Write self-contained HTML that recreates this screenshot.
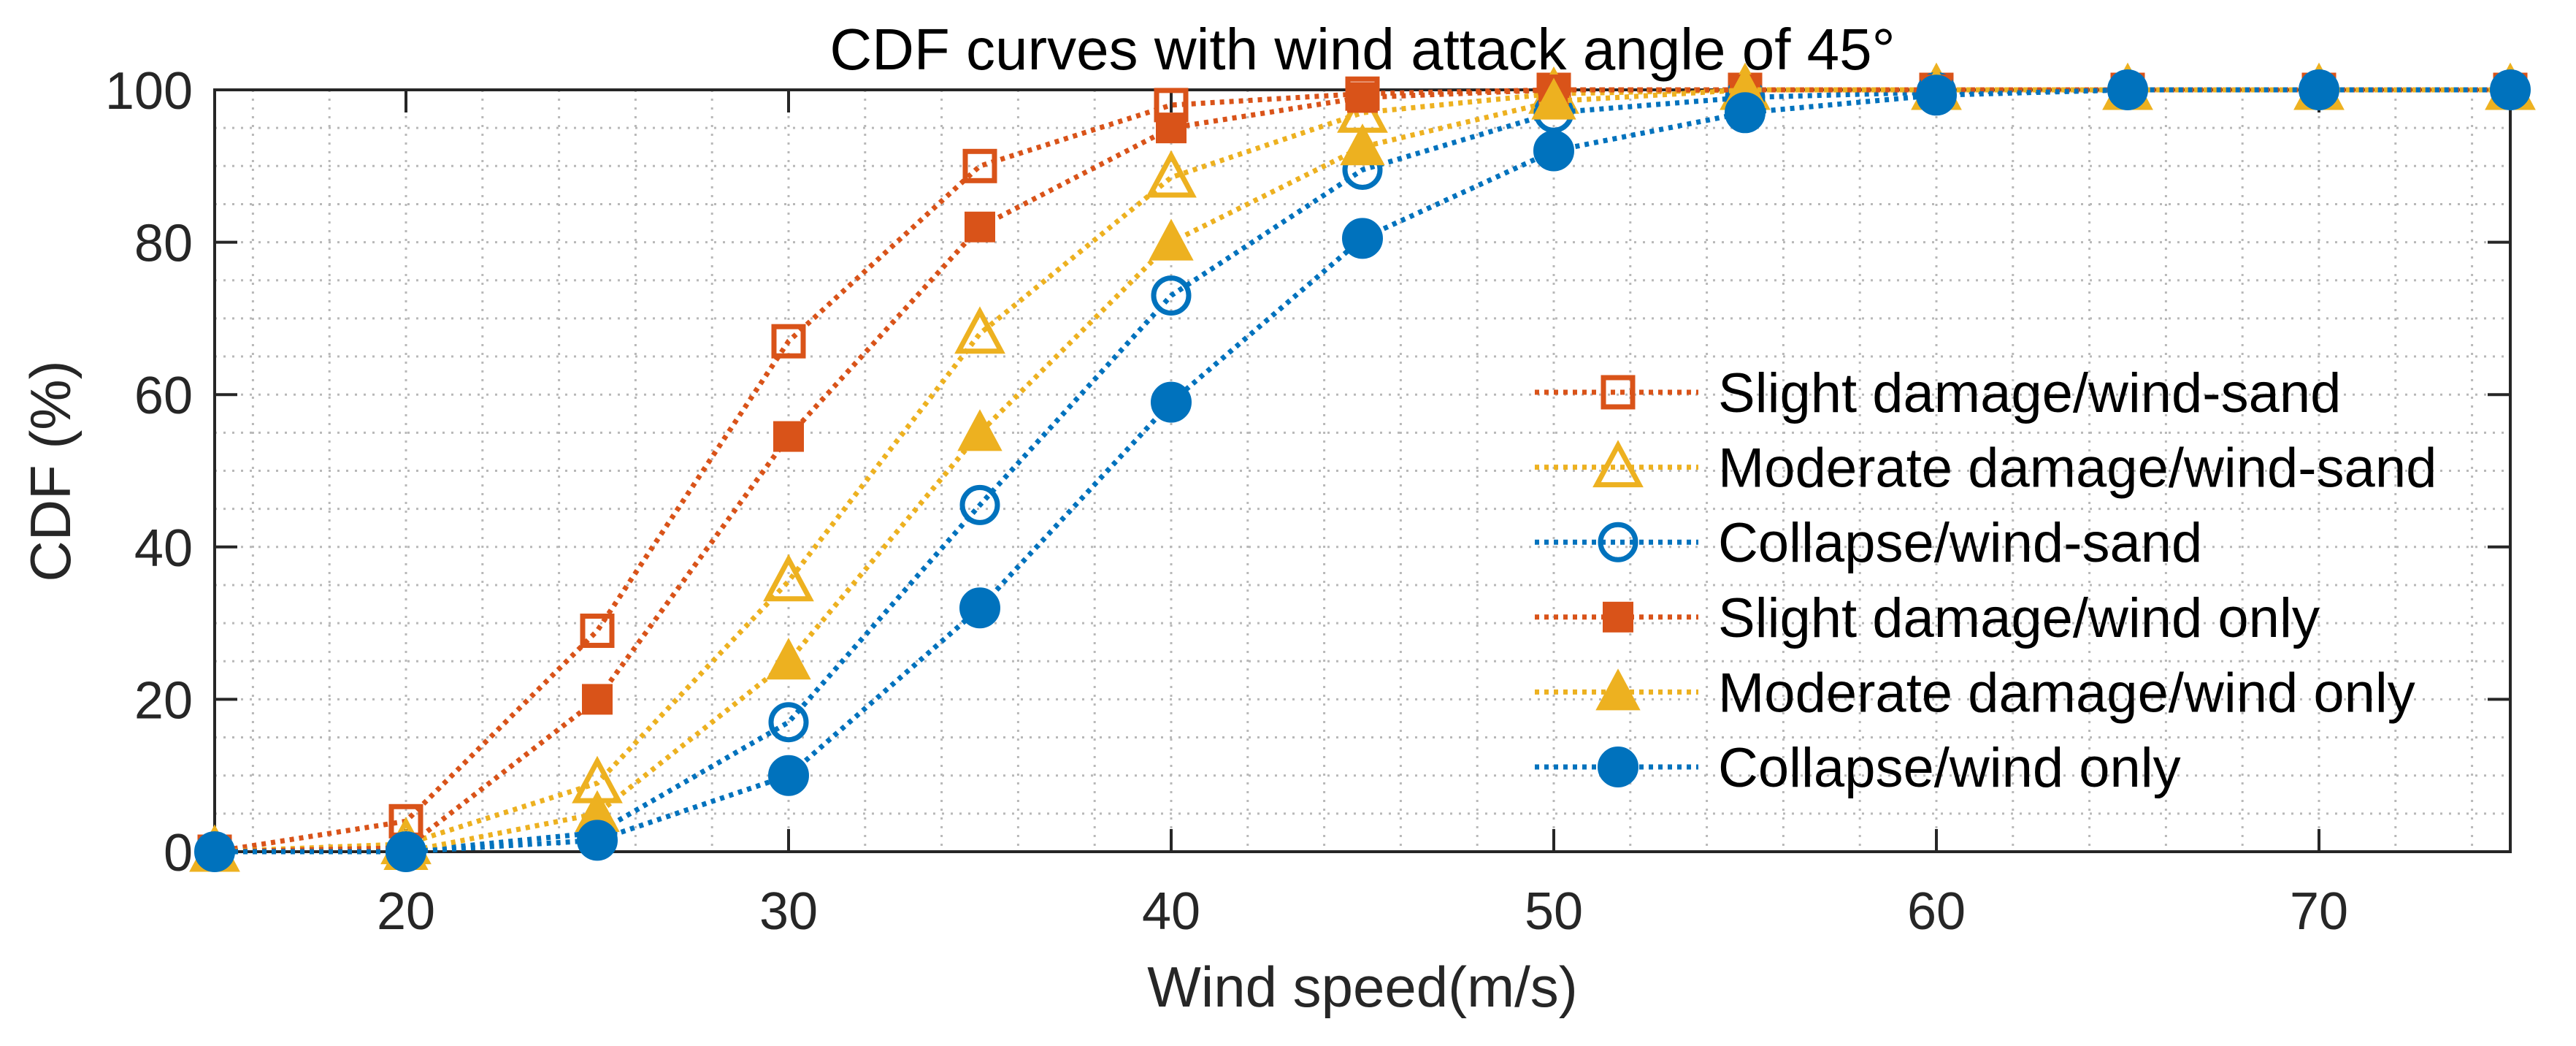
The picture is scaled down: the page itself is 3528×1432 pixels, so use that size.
<!DOCTYPE html>
<html><head><meta charset="utf-8"><style>
html,body{margin:0;padding:0;background:#fff;}
svg{display:block;font-family:"Liberation Sans",Arial,sans-serif;}
</style></head><body>
<svg id="chart" width="3528" height="1432" viewBox="0 0 3528 1432" xmlns="http://www.w3.org/2000/svg">
<rect width="3528" height="1432" fill="#fff"/>
<g id="grid"></g>
<g id="axes"></g>
<g id="series"></g>
<g id="legend"></g>
<text x="1866" y="95" font-size="80" text-anchor="middle" fill="#000">CDF curves with wind attack angle of 45°</text>
<text x="1866" y="1378" font-size="78" text-anchor="middle" fill="#262626">Wind speed(m/s)</text>
<text x="0" y="0" transform="translate(96,645) rotate(-90)" font-size="78" text-anchor="middle" fill="#262626">CDF (%)</text>
</svg>
<script>
const windSpeeds = [15,20,25,30,35,40,45,50,55,60,65,70,75];
const slightSand   = [0,4,29,67,90,98,99.5,100,100,100,100,100,100];
const moderateSand = [0,1,9,35.5,68,88.5,97,99.5,100,100,100,100,100];
const collapseSand = [0,0,2.5,17,45.5,73,89.5,97,99,99.7,100,100,100];
const slightWind   = [0,0.5,20,54.5,82,95,99,100,100,100,100,100,100];
const moderateWind = [0,0,5,25,55,80,92.5,98.5,100,100,100,100,100];
const collapseWind = [0,0,1.5,10,32,59,80.5,92,97,99.3,100,100,100];
const xTicks = [20,30,40,50,60,70];
const yTicks = [0,20,40,60,80,100];
const seriesNames = ["Slight damage/wind-sand","Moderate damage/wind-sand","Collapse/wind-sand","Slight damage/wind only","Moderate damage/wind only","Collapse/wind only"];

const L=294,R=3438,T=123,B=1166;
const xMin=15,xMax=75,yMin=0,yMax=100;
function xs(v){return L+(v-xMin)/(xMax-xMin)*(R-L);}
function ys(v){return B-(v-yMin)/(yMax-yMin)*(B-T);}
const NS="http://www.w3.org/2000/svg";
function mk(tag,attrs,parent){const e=document.createElementNS(NS,tag);for(const k in attrs)e.setAttribute(k,attrs[k]);parent.appendChild(e);return e;}

const grid=document.getElementById('grid');
for(let v=16;v<75;v+=2){
  const g=mk('line',{x1:xs(v),x2:xs(v),y1:T,y2:B,stroke:'#b8b8b8','stroke-width':3,'stroke-dasharray':'3 9'},grid);
  
  
}
for(let v=5;v<100;v+=5){
  const g=mk('line',{x1:L,x2:R,y1:ys(v),y2:ys(v),stroke:'#b8b8b8','stroke-width':3,'stroke-dasharray':'3 9'},grid);
  
  
}

const axes=document.getElementById('axes');
const box=mk('rect',{x:L,y:T,width:R-L,height:B-T,fill:'none',stroke:'#262626','stroke-width':4},axes);


xTicks.forEach(v=>{
  mk('line',{x1:xs(v),x2:xs(v),y1:B,y2:B-31,stroke:'#262626','stroke-width':4},axes);
  mk('line',{x1:xs(v),x2:xs(v),y1:T,y2:T+31,stroke:'#262626','stroke-width':4},axes);
  const t=mk('text',{x:xs(v),y:1272,'font-size':72,'text-anchor':'middle',fill:'#262626'},axes);
  t.textContent=v;
  
  
});
yTicks.forEach(v=>{
  mk('line',{x1:L,x2:L+31,y1:ys(v),y2:ys(v),stroke:'#262626','stroke-width':4},axes);
  mk('line',{x1:R,x2:R-31,y1:ys(v),y2:ys(v),stroke:'#262626','stroke-width':4},axes);
  const t=mk('text',{x:264,y:ys(v)+26,'font-size':72,'text-anchor':'end',fill:'#262626'},axes);
  t.textContent=v;
  
  
});

const ORANGE='#D95319',YELLOW='#EDB120',BLUE='#0072BD';
const specs=[
 {data:slightSand,color:ORANGE,m:'square',fill:false},
 {data:moderateSand,color:YELLOW,m:'triangle',fill:false},
 {data:collapseSand,color:BLUE,m:'circle',fill:false},
 {data:slightWind,color:ORANGE,m:'square',fill:true},
 {data:moderateWind,color:YELLOW,m:'triangle',fill:true},
 {data:collapseWind,color:BLUE,m:'circle',fill:true}
];
function marker(parent,type,cx,cy,color,fill){
  const a={fill:fill?color:'#fff','fill-opacity':fill?1:0,stroke:color,'stroke-width':fill?2:7};
  let e;
  if(type==='square'){e=mk('rect',Object.assign({x:cx-20,y:cy-20,width:40,height:40},a),parent);}
  else if(type==='triangle'){e=mk('polygon',Object.assign({points:`${cx},${cy-30} ${cx-29},${cy+24} ${cx+29},${cy+24}`},a),parent);}
  else {e=mk('circle',Object.assign({cx:cx,cy:cy,r:fill?27:24},a),parent);}
  return e;
}
const sg=document.getElementById('series');
specs.forEach((s,i)=>{
  const g=mk('g',{},sg);
  
  
  const pts=windSpeeds.map((x,j)=>xs(x)+','+ys(s.data[j])).join(' ');
  const pl=mk('polyline',{points:pts,fill:'none',stroke:s.color,'stroke-width':7,'stroke-dasharray':'6 7'},g);
  
  
  windSpeeds.forEach((x,j)=>{
    const m=marker(g,s.m,xs(x),ys(s.data[j]),s.color,s.fill);
    
    
  });
});

const lg=document.getElementById('legend');
specs.forEach((s,i)=>{
  const y=537+i*102.6;
  const g=mk('g',{},lg);
  
  
  mk('line',{x1:2102,x2:2326,y1:y,y2:y,stroke:s.color,'stroke-width':7,'stroke-dasharray':'6 7'},g);
  marker(g,s.m,2216,y,s.color,s.fill);
  const t=mk('text',{x:2353,y:y+27,'font-size':76,fill:'#000'},g);
  t.textContent=seriesNames[i];
  
  
});
</script>
</body></html>
